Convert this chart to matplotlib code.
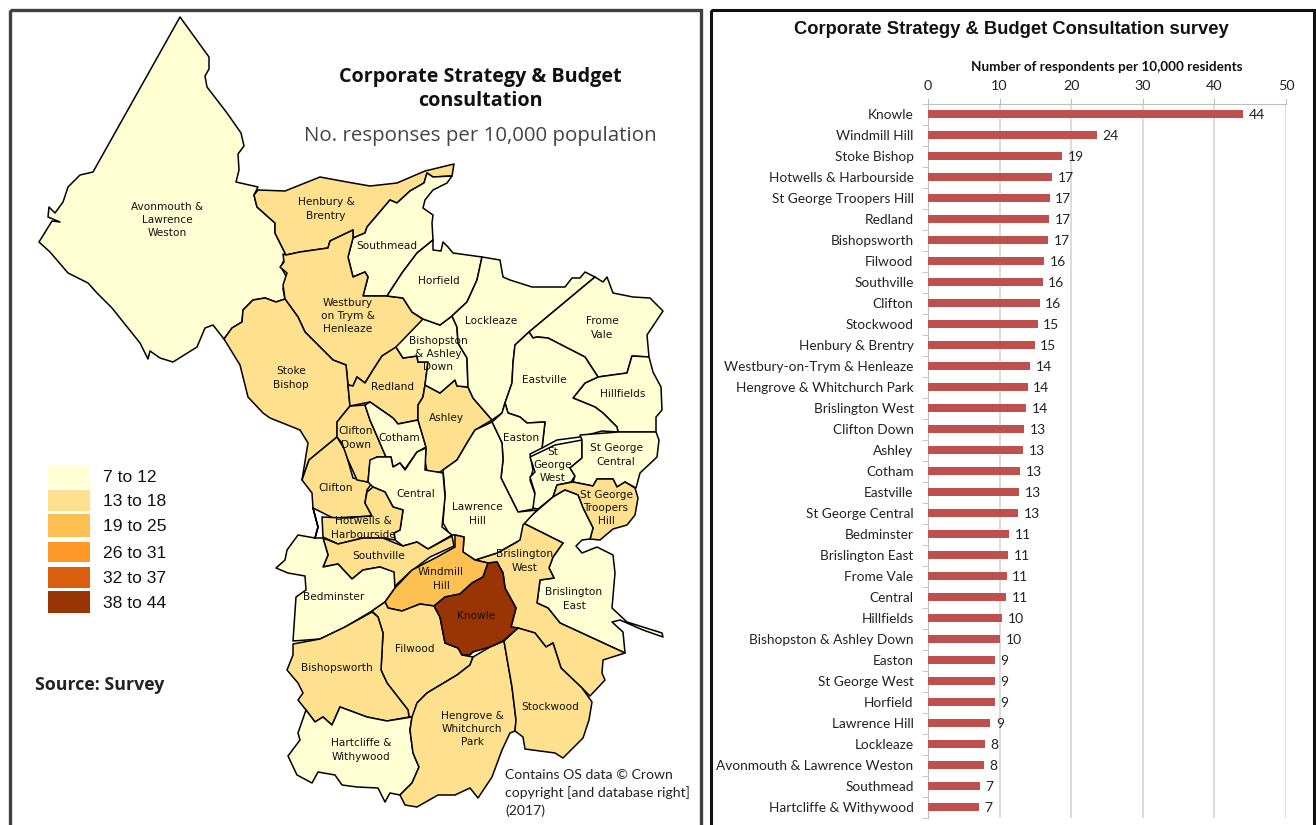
import numpy as np
import matplotlib
matplotlib.use("Agg")
import matplotlib.pyplot as plt
from matplotlib.patches import Polygon, Rectangle

# Wards and survey rates
wards = ["Knowle", "Windmill Hill", "Stoke Bishop", "Hotwells & Harbourside", "St George Troopers Hill",
         "Redland", "Bishopsworth", "Filwood", "Southville", "Clifton", "Stockwood", "Henbury & Brentry",
         "Westbury-on-Trym & Henleaze", "Hengrove & Whitchurch Park", "Brislington West", "Clifton Down",
         "Ashley", "Cotham", "Eastville", "St George Central", "Bedminster", "Brislington East", "Frome Vale",
         "Central", "Hillfields", "Bishopston & Ashley Down", "Easton", "St George West", "Horfield",
         "Lawrence Hill", "Lockleaze", "Avonmouth & Lawrence Weston", "Southmead", "Hartcliffe & Withywood"]
rates = [44.0, 23.6, 18.7, 17.3, 17.0, 16.9, 16.8, 16.2, 16.0, 15.6, 15.3, 14.9, 14.3, 13.9, 13.7, 13.4, 13.3,
         12.9, 12.7, 12.6, 11.3, 11.2, 11.0, 10.9, 10.4, 10.1, 9.3, 9.3, 9.3, 8.7, 8.0, 7.8, 7.2, 7.1]

legend_labels = ["7 to 12", "13 to 18", "19 to 25", "26 to 31", "32 to 37", "38 to 44"]
legend_lower = [13, 19, 26, 32, 38]
legend_colors = ["#FFFFD4", "#FEE08F", "#FEC050", "#FE9929", "#D95F0E", "#993404"]

axis_ticks = [0, 10, 20, 30, 40, 50]

avonmouth = [(180,17),(209,57),(209,69),(205,76),(207,87),(227,113),(241,133),(244,146),(238,154),(239,170),(236,182),(258,187),(254,195),(257,207),(275,223),(275,233),(286,255),(281,267),(287,278),(283,289),(285,299),(276,302),(265,298),(253,300),(243,310),(242,322),(232,328),(224,339),(213,325),(205,328),(197,347),(173,362),(160,358),(150,351),(148,359),(140,343),(112,308),(97,293),(88,283),(68,273),(50,252),(39,242),(52,221),(60,222),(48,217),(49,207),(55,213),(63,202),(68,187),(80,175),(93,172)]
henbury = [(258,190),(285,191),(300,185),(320,177),(347,182),(370,186),(397,183),(425,171),(454,164),(452,176),(433,177),(427,173),(424,183),(410,191),(397,203),(390,200),(367,227),(365,233),(353,238),(353,230),(330,241),(328,248),(300,252),(286,255),(275,233),(275,223),(257,207),(254,195)]
southmead = [(390,200),(397,203),(410,191),(424,183),(427,173),(433,177),(452,176),(447,183),(433,190),(425,200),(423,208),(433,215),(432,223),(433,240),(417,253),(402,273),(387,296),(363,296),(368,277),(365,272),(353,277),(348,257),(353,238),(365,233),(367,227)]
westbury = [(286,255),(300,252),(328,248),(330,241),(353,230),(353,238),(348,257),(353,277),(365,272),(368,277),(363,296),(387,296),(403,298),(412,312),(424,320),(397,347),(382,356),(373,370),(365,383),(357,377),(353,386),(348,385),(346,365),(333,360),(320,347),(305,332),(298,317),(285,299),(283,285),(287,273),(280,267),(284,262),(283,254)]
stoke_bishop = [(285,299),(276,302),(265,298),(253,300),(243,310),(242,322),(232,328),(224,339),(240,365),(248,397),(263,413),(270,418),(300,430),(308,443),(302,480),(309,460),(337,437),(337,422),(350,406),(346,365),(333,360),(320,347),(305,332),(298,317)]
clifton = [(337,437),(309,460),(302,480),(312,493),(313,508),(333,518),(372,516),(365,503),(367,490),(372,483),(368,482),(353,478),(345,450)]
clifton_down = [(350,406),(365,405),(370,420),(386,457),(377,457),(370,462),(368,482),(357,480),(348,460),(342,443),(337,437),(337,422)]
redland = [(348,385),(353,386),(357,377),(365,383),(373,370),(382,356),(396,347),(403,358),(417,356),(418,362),(428,362),(425,385),(423,397),(418,405),(418,420),(398,424),(393,418),(370,402),(350,406)]
cotham = [(365,405),(370,402),(393,418),(398,424),(418,420),(426,447),(417,452),(405,469),(400,463),(393,467),(391,457),(386,457),(370,420)]
ashley = [(425,385),(440,393),(455,380),(457,386),(468,387),(473,398),(492,420),(475,430),(467,443),(457,460),(440,472),(427,472),(425,460),(426,447),(418,420),(418,405),(423,397)]
bishopston = [(423,319),(440,325),(452,316),(457,327),(458,343),(467,358),(468,387),(457,386),(455,380),(440,393),(425,385),(428,362),(418,362),(417,356),(403,358),(396,347)]
horfield = [(433,240),(433,250),(441,251),(443,242),(448,247),(453,253),(482,257),(477,280),(467,302),(452,316),(440,325),(423,319),(412,312),(403,298),(387,296),(402,273),(417,253)]
lockleaze = [(482,257),(500,260),(503,277),(510,280),(532,287),(565,287),(572,278),(580,278),(585,272),(595,277),(529,332),(515,345),(513,363),(512,383),(505,403),(502,413),(492,420),(473,398),(468,387),(467,358),(458,343),(457,327),(452,316),(467,302),(477,280)]
frome_vale = [(595,277),(603,282),(607,277),(613,293),(633,297),(650,298),(663,311),(647,335),(649,357),(632,356),(627,373),(598,377),(585,357),(548,338),(537,337),(533,338),(529,332)]
hillfields = [(632,356),(649,357),(653,372),(661,387),(662,410),(656,417),(656,432),(618,432),(617,427),(603,413),(595,407),(573,398),(585,383),(598,377),(627,373)]
eastville = [(529,332),(533,338),(537,337),(548,338),(585,357),(598,377),(585,383),(573,398),(595,407),(603,413),(617,427),(618,432),(602,431),(580,437),(557,440),(542,448),(545,422),(527,423),(520,417),(508,413),(505,403),(512,383),(513,363),(515,345)]
easton = [(505,403),(508,413),(520,417),(527,423),(545,422),(542,448),(530,454),(533,470),(530,480),(536,497),(533,509),(518,512),(501,478),(503,460),(502,443),(492,422),(502,413)]
st_george_west = [(530,457),(555,445),(582,440),(582,458),(570,468),(575,476),(571,482),(557,485),(553,497),(538,509),(533,508),(535,493),(530,477),(535,472)]
st_george_central = [(582,440),(580,435),(618,432),(656,432),(659,440),(657,457),(640,473),(636,488),(625,482),(617,487),(613,479),(597,479),(593,486),(573,482),(575,476),(570,468),(582,458)]
st_george_troopers = [(573,482),(593,486),(597,479),(613,479),(617,487),(625,482),(635,488),(638,498),(635,515),(627,525),(613,529),(600,540),(590,539),(593,528),(583,508),(578,495),(565,490),(553,497),(557,485)]
brislington_east = [(565,490),(578,495),(583,508),(593,528),(590,539),(582,540),(576,546),(582,553),(597,547),(613,555),(615,573),(612,608),(627,622),(662,633),(663,637),(643,630),(620,620),(612,622),(623,632),(625,653),(560,623),(548,608),(537,603),(540,580),(554,578),(549,568),(553,557),(563,543),(523,523),(539,509),(553,497)]
brislington_west = [(523,523),(563,543),(553,557),(549,568),(554,578),(540,580),(537,603),(548,608),(560,623),(625,653),(603,660),(602,673),(605,680),(590,696),(582,688),(561,668),(553,643),(546,647),(535,633),(518,628),(511,627),(516,608),(505,588),(503,573),(497,562),(488,563),(475,560),(497,553),(517,542)]
lawrence_hill = [(492,422),(502,443),(503,460),(501,478),(518,512),(537,510),(523,525),(520,540),(497,553),(475,560),(463,552),(464,537),(455,535),(450,535),(443,523),(445,493),(443,470),(457,460),(467,443),(475,430)]
central = [(370,460),(377,457),(391,457),(393,467),(400,463),(405,470),(417,452),(426,448),(425,470),(443,473),(445,497),(442,527),(452,535),(428,549),(417,542),(403,546),(395,540),(394,533),(400,530),(403,510),(393,507),(385,492),(373,487),(368,482)]
hotwells = [(322,517),(343,518),(372,516),(365,503),(367,492),(373,487),(385,492),(393,507),(403,510),(400,530),(394,533),(395,540),(383,538),(363,538),(338,544),(323,537)]
southville = [(323,538),(338,544),(363,538),(383,538),(395,543),(403,546),(417,542),(428,549),(452,536),(454,546),(430,557),(410,572),(394,587),(392,572),(380,567),(363,570),(352,579),(338,564),(323,567),(328,555)]
bedminster = [(315,538),(318,527),(313,508),(318,527),(315,538),(298,535),(287,550),(285,560),(276,568),(288,573),(305,576),(306,590),(296,597),(293,641),(320,639),(345,627),(372,611),(385,602),(395,588),(394,572),(380,567),(363,570),(352,579),(338,564),(323,567),(328,555),(323,538)]
windmill_hill = [(455,535),(464,537),(463,552),(475,560),(488,563),(483,577),(472,583),(460,594),(445,597),(434,606),(420,604),(402,611),(388,608),(385,602),(395,588),(412,570),(437,557),(455,547)]
knowle = [(488,563),(497,562),(503,573),(505,588),(516,608),(511,627),(518,628),(503,641),(490,647),(473,652),(470,655),(462,655),(458,648),(445,643),(440,617),(434,606),(445,597),(460,594),(472,583),(483,577)]
filwood = [(372,611),(385,602),(388,608),(402,611),(420,604),(434,606),(440,617),(445,643),(458,648),(462,655),(473,657),(470,665),(457,675),(427,693),(417,703),(413,717),(409,717),(408,710),(387,683),(381,670),(383,633),(378,617)]
bishopsworth = [(293,644),(320,639),(345,627),(372,612),(378,617),(383,633),(381,670),(387,683),(408,710),(409,717),(387,721),(367,717),(340,707),(332,725),(323,717),(315,722),(306,710),(298,700),(303,693),(298,683),(287,670),(293,655)]
hartcliffe = [(306,710),(315,722),(323,717),(332,725),(340,707),(367,717),(387,721),(412,717),(410,730),(413,753),(419,767),(412,783),(400,795),(390,793),(385,802),(378,788),(357,787),(342,785),(335,775),(318,772),(312,783),(297,775),(288,756),(300,740),(298,733)]
hengrove = [(412,717),(417,703),(427,693),(457,675),(470,665),(473,657),(490,647),(504,641),(512,687),(516,720),(515,731),(510,733),(502,750),(492,777),(478,798),(470,788),(455,795),(438,795),(417,807),(405,805),(400,795),(412,783),(419,767),(413,753),(410,730)]
stockwood = [(504,641),(518,628),(535,633),(546,647),(553,643),(561,668),(582,688),(592,702),(589,720),(583,738),(563,758),(555,753),(525,749),(523,737),(515,731),(516,720),(512,687)]

ward_shapes = [("Avonmouth & Lawrence Weston", avonmouth), ("Henbury & Brentry", henbury), ("Southmead", southmead),
               ("Westbury-on-Trym & Henleaze", westbury), ("Stoke Bishop", stoke_bishop), ("Clifton", clifton),
               ("Clifton Down", clifton_down), ("Redland", redland), ("Cotham", cotham), ("Ashley", ashley),
               ("Bishopston & Ashley Down", bishopston), ("Horfield", horfield), ("Lockleaze", lockleaze),
               ("Frome Vale", frome_vale), ("Hillfields", hillfields), ("Eastville", eastville), ("Easton", easton),
               ("St George West", st_george_west), ("St George Central", st_george_central),
               ("St George Troopers Hill", st_george_troopers), ("Brislington East", brislington_east),
               ("Brislington West", brislington_west), ("Lawrence Hill", lawrence_hill), ("Central", central),
               ("Hotwells & Harbourside", hotwells), ("Southville", southville), ("Bedminster", bedminster),
               ("Windmill Hill", windmill_hill), ("Filwood", filwood), ("Bishopsworth", bishopsworth),
               ("Hartcliffe & Withywood", hartcliffe), ("Hengrove & Whitchurch Park", hengrove),
               ("Stockwood", stockwood), ("Knowle", knowle)]

# Map labels as printed, with their centres
map_labels = [("Avonmouth &\nLawrence\nWeston", 167, 220), ("Henbury &\nBrentry", 326, 209), ("Southmead", 387, 246),
              ("Horfield", 439, 281), ("Westbury\non Trym &\nHenleaze", 348, 316), ("Bishopston\n& Ashley\nDown", 438, 354),
              ("Lockleaze", 491, 321), ("Frome\nVale", 602, 328), ("Stoke\nBishop", 291, 378), ("Redland", 393, 387),
              ("Eastville", 544, 380), ("Hillfields", 623, 394), ("Ashley", 446, 418), ("Clifton\nDown", 356, 438),
              ("Cotham", 399, 438), ("Easton", 521, 438), ("St\nGeorge\nWest", 553, 465), ("St George\nCentral", 616, 455),
              ("Clifton", 336, 488), ("Central", 416, 494), ("Lawrence\nHill", 477, 514), ("St George\nTroopers\nHill", 606, 508),
              ("Hotwells &\nHarbourside", 363, 528), ("Southville", 379, 556), ("Windmill\nHill", 441, 579),
              ("Brislington\nWest", 525, 561), ("Brislington\nEast", 574, 599), ("Bedminster", 334, 597), ("Knowle", 476, 616),
              ("Filwood", 415, 649), ("Bishopsworth", 337, 668), ("Stockwood", 550, 707),
              ("Hengrove &\nWhitchurch\nPark", 472, 729), ("Hartcliffe &\nWithywood", 361, 750)]

W, H = 1316, 825
fig = plt.figure(figsize=(W / 100, H / 100), dpi=100)

# Full-figure axes in pixels for the map panel
ax = fig.add_axes([0, 0, 1, 1])
ax.set_xlim(0, W)
ax.set_ylim(H, 0)
ax.axis("off")

ax.add_patch(Rectangle((10, 10), 691, 830, fill=False, ec="#404040", lw=2.4))
ax.add_patch(Rectangle((711, 10), 603, 830, fill=False, ec="#111111", lw=2.2))

rate_of = dict(zip(wards, rates))
for name, shape in ward_shapes:
    color = legend_colors[np.digitize(rate_of[name], legend_lower)]
    ax.add_patch(Polygon(shape, closed=True, fc=color, ec="black", lw=1.1, joinstyle="round"))

for label, x, y in map_labels:
    ax.text(x, y, label, ha="center", va="center", fontsize=7.6, color="#111111", linespacing=1.42,
            family="DejaVu Sans")

ax.text(480, 77, "Corporate Strategy & Budget", ha="center", va="center", fontsize=14.25, fontweight="bold",
        family="Open Sans", color="#111111")
ax.text(480, 101, "consultation", ha="center", va="center", fontsize=14.25, fontweight="bold",
        family="Open Sans", color="#111111")
ax.text(480, 136, "No. responses per 10,000 population", ha="center", va="center", fontsize=14.75,
        family="Open Sans", color="#444444")

# Legend
swatch_top = [465, 490, 514, 542, 567, 591]
swatch_bottom = [487, 511, 537, 562, 588, 613]
for i, lab in enumerate(legend_labels):
    ax.add_patch(Rectangle((48, swatch_top[i]), 42, swatch_bottom[i] - swatch_top[i], fc=legend_colors[i], ec="none"))
    ax.text(103, (swatch_top[i] + swatch_bottom[i]) / 2 + 1, lab, ha="left", va="center", fontsize=12.6,
            family="Liberation Sans", color="#111111")

ax.text(35, 685, "Source: Survey", ha="left", va="center", fontsize=12.8, fontweight="bold",
        family="Open Sans", color="#222222")
ax.text(505, 793, "Contains OS data © Crown\ncopyright [and database right]\n(2017)", ha="left", va="center",
        fontsize=10.07, family="Lato", color="#222222", linespacing=1.5)

# Bar chart panel
left, right = 928, 1286
top, bottom = 103.5, 817.5
bx = fig.add_axes([left / W, 1 - bottom / H, (right - left) / W, (bottom - top) / H])
ypos = np.arange(len(wards))
bx.barh(ypos, rates, height=0.42, color="#C0504D", zorder=3)
bx.set_xlim(0, 50)
bx.set_ylim(len(wards) - 0.5, -0.5)
bx.set_xticks(axis_ticks)
bx.xaxis.tick_top()
bx.xaxis.set_label_position("top")
bx.set_xlabel("Number of respondents per 10,000 residents", fontsize=9.7, fontweight="bold", family="Lato",
              color="#111111", labelpad=7)
bx.grid(axis="x", color="#D9D9D9", lw=1.3, zorder=0)
bx.set_yticks(ypos)
bx.set_yticklabels(wards, family="Lato", fontsize=9.85, color="#222222")
bx.tick_params(axis="y", length=0, pad=10.4)
bx.tick_params(axis="x", length=4, color="#BFBFBF", labelsize=10.4, labelcolor="#222222", pad=4)
for t in bx.get_xticklabels():
    t.set_family("Lato")
# small separators on the category axis
bx.set_yticks(np.arange(len(wards) + 1) - 0.5, minor=True)
bx.tick_params(axis="y", which="minor", length=4, color="#BFBFBF")
for side in ["right", "bottom"]:
    bx.spines[side].set_visible(False)
for side in ["top", "left"]:
    bx.spines[side].set_color("#BFBFBF")

for y, v in zip(ypos, rates):
    bx.annotate(str(round(v)), (v, y), xytext=(4, -1), textcoords="offset points", va="center", ha="left",
                family="Lato", fontsize=10, color="#222222", zorder=4)

fig.text((794 + 1228) / 2 / W, 1 - 29 / H, "Corporate Strategy & Budget Consultation survey", ha="center", va="center",
         fontsize=13.2, fontweight="bold", family="Liberation Sans", color="#111111")

fig.savefig("out.png", dpi=100)
